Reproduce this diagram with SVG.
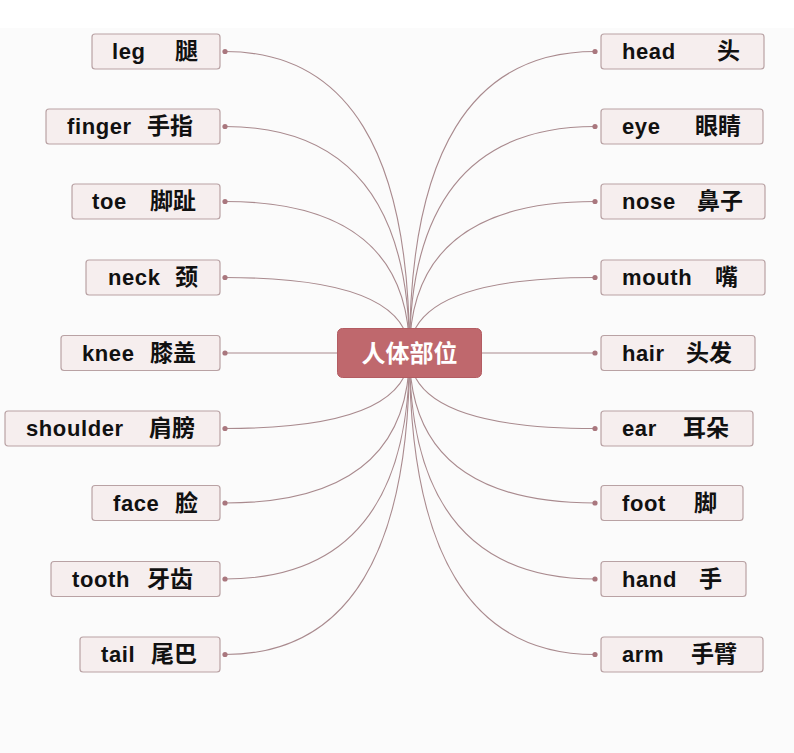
<svg xmlns="http://www.w3.org/2000/svg" width="794" height="753" viewBox="0 0 794 753">
<style>
.bx{fill:#f6eeee;stroke:#b9a2a4;stroke-width:1.2}
.t{font-family:"Liberation Sans","Noto Sans CJK SC",sans-serif;font-weight:bold;font-size:22px;letter-spacing:0.6px;fill:#111}
.c{font-family:"Noto Sans CJK SC",sans-serif;font-weight:bold;font-size:23px;letter-spacing:0}
.ln{fill:none;stroke:#a98a8e;stroke-width:1.1}
.dot{fill:#a9777e}
</style>
<rect x="0" y="0" width="794" height="753" fill="#fbfbfb"/>
<rect x="0" y="0" width="794" height="28" fill="#ffffff"/>
<g id="connectors">
<path class="ln" d="M409.5 353 Q409.5 51.5 225 51.5"/>
<path class="ln" d="M409.5 353 Q409.5 126.5 225 126.5"/>
<path class="ln" d="M409.5 353 Q409.5 201.5 225 201.5"/>
<path class="ln" d="M409.5 353 Q409.5 277.5 225 277.5"/>
<path class="ln" d="M409.5 353 L225 353"/>
<path class="ln" d="M409.5 353 Q409.5 428.5 225 428.5"/>
<path class="ln" d="M409.5 353 Q409.5 503 225 503"/>
<path class="ln" d="M409.5 353 Q409.5 579 225 579"/>
<path class="ln" d="M409.5 353 Q409.5 654.5 225 654.5"/>
<path class="ln" d="M409.5 353 Q409.5 51.5 595 51.5"/>
<path class="ln" d="M409.5 353 Q409.5 126.5 595 126.5"/>
<path class="ln" d="M409.5 353 Q409.5 201.5 595 201.5"/>
<path class="ln" d="M409.5 353 Q409.5 277.5 595 277.5"/>
<path class="ln" d="M409.5 353 L595 353"/>
<path class="ln" d="M409.5 353 Q409.5 428.5 595 428.5"/>
<path class="ln" d="M409.5 353 Q409.5 503 595 503"/>
<path class="ln" d="M409.5 353 Q409.5 579 595 579"/>
<path class="ln" d="M409.5 353 Q409.5 654.5 595 654.5"/>
<circle class="dot" cx="225" cy="51.5" r="2.6"/>
<circle class="dot" cx="225" cy="126.5" r="2.6"/>
<circle class="dot" cx="225" cy="201.5" r="2.6"/>
<circle class="dot" cx="225" cy="277.5" r="2.6"/>
<circle class="dot" cx="225" cy="353" r="2.6"/>
<circle class="dot" cx="225" cy="428.5" r="2.6"/>
<circle class="dot" cx="225" cy="503" r="2.6"/>
<circle class="dot" cx="225" cy="579" r="2.6"/>
<circle class="dot" cx="225" cy="654.5" r="2.6"/>
<circle class="dot" cx="595" cy="51.5" r="2.6"/>
<circle class="dot" cx="595" cy="126.5" r="2.6"/>
<circle class="dot" cx="595" cy="201.5" r="2.6"/>
<circle class="dot" cx="595" cy="277.5" r="2.6"/>
<circle class="dot" cx="595" cy="353" r="2.6"/>
<circle class="dot" cx="595" cy="428.5" r="2.6"/>
<circle class="dot" cx="595" cy="503" r="2.6"/>
<circle class="dot" cx="595" cy="579" r="2.6"/>
<circle class="dot" cx="595" cy="654.5" r="2.6"/>
</g>
<g id="center">
<rect x="337.5" y="328.5" width="144" height="49" rx="5" fill="#bf686d" stroke="#b35c62" stroke-width="1"/>
<text x="409.5" y="362" text-anchor="middle" font-family="'Noto Sans CJK SC',sans-serif" font-weight="bold" font-size="24" fill="#ffffff">人体部位</text>
</g>
<g id="n-leg"><rect class="bx" x="92" y="34" width="128" height="35" rx="3"/><text class="t" y="59"><tspan x="112">leg</tspan><tspan class="c" x="175">腿</tspan></text></g>
<g id="n-finger"><rect class="bx" x="46" y="109" width="174" height="35" rx="3"/><text class="t" y="134"><tspan x="67">finger</tspan><tspan class="c" x="147">手指</tspan></text></g>
<g id="n-toe"><rect class="bx" x="72" y="184" width="148" height="35" rx="3"/><text class="t" y="209"><tspan x="92">toe</tspan><tspan class="c" x="150">脚趾</tspan></text></g>
<g id="n-neck"><rect class="bx" x="86" y="260" width="134" height="35" rx="3"/><text class="t" y="285"><tspan x="108">neck</tspan><tspan class="c" x="175">颈</tspan></text></g>
<g id="n-knee"><rect class="bx" x="61" y="335.5" width="159" height="35" rx="3"/><text class="t" y="360.5"><tspan x="82">knee</tspan><tspan class="c" x="150">膝盖</tspan></text></g>
<g id="n-shoulder"><rect class="bx" x="5" y="411" width="215" height="35" rx="3"/><text class="t" y="436"><tspan x="26">shoulder</tspan><tspan class="c" x="149">肩膀</tspan></text></g>
<g id="n-face"><rect class="bx" x="92" y="485.5" width="128" height="35" rx="3"/><text class="t" y="510.5"><tspan x="113">face</tspan><tspan class="c" x="175">脸</tspan></text></g>
<g id="n-tooth"><rect class="bx" x="51" y="561.5" width="169" height="35" rx="3"/><text class="t" y="586.5"><tspan x="72">tooth</tspan><tspan class="c" x="147">牙齿</tspan></text></g>
<g id="n-tail"><rect class="bx" x="80" y="637" width="140" height="35" rx="3"/><text class="t" y="662"><tspan x="101">tail</tspan><tspan class="c" x="151">尾巴</tspan></text></g>
<g id="n-head"><rect class="bx" x="601" y="34" width="163" height="35" rx="3"/><text class="t" y="59"><tspan x="622">head</tspan><tspan class="c" x="717">头</tspan></text></g>
<g id="n-eye"><rect class="bx" x="601" y="109" width="162" height="35" rx="3"/><text class="t" y="134"><tspan x="622">eye</tspan><tspan class="c" x="695">眼睛</tspan></text></g>
<g id="n-nose"><rect class="bx" x="601" y="184" width="164" height="35" rx="3"/><text class="t" y="209"><tspan x="622">nose</tspan><tspan class="c" x="697">鼻子</tspan></text></g>
<g id="n-mouth"><rect class="bx" x="601" y="260" width="164" height="35" rx="3"/><text class="t" y="285"><tspan x="622">mouth</tspan><tspan class="c" x="715">嘴</tspan></text></g>
<g id="n-hair"><rect class="bx" x="601" y="335.5" width="154" height="35" rx="3"/><text class="t" y="360.5"><tspan x="622">hair</tspan><tspan class="c" x="686">头发</tspan></text></g>
<g id="n-ear"><rect class="bx" x="601" y="411" width="152" height="35" rx="3"/><text class="t" y="436"><tspan x="622">ear</tspan><tspan class="c" x="683">耳朵</tspan></text></g>
<g id="n-foot"><rect class="bx" x="601" y="485.5" width="142" height="35" rx="3"/><text class="t" y="510.5"><tspan x="622">foot</tspan><tspan class="c" x="694">脚</tspan></text></g>
<g id="n-hand"><rect class="bx" x="601" y="561.5" width="145" height="35" rx="3"/><text class="t" y="586.5"><tspan x="622">hand</tspan><tspan class="c" x="699">手</tspan></text></g>
<g id="n-arm"><rect class="bx" x="601" y="637" width="162" height="35" rx="3"/><text class="t" y="662"><tspan x="622">arm</tspan><tspan class="c" x="691">手臂</tspan></text></g>
</svg>
